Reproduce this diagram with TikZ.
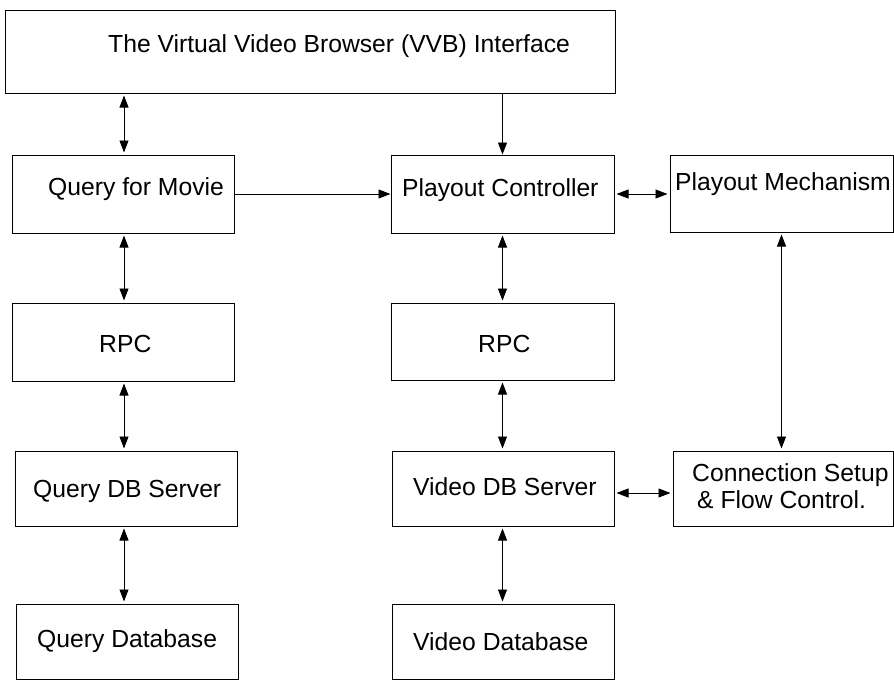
\documentclass[tikz,border=0pt]{standalone}
\usepackage{fontspec}
\setmainfont{Liberation Sans}
\usetikzlibrary{arrows.meta}
\begin{document}
\begin{tikzpicture}[x=1pt,y=-1pt,
  blk/.style={draw, line width=1pt, inner sep=0pt},
  lbl/.style={font=\fontsize{24.7}{29}\selectfont, inner sep=0pt, anchor=base west},
  conn/.style={line width=0.9pt, -{Triangle[length=12pt,width=9pt]}},
  bconn/.style={line width=0.9pt, {Triangle[length=12pt,width=9pt]}-{Triangle[length=12pt,width=9pt]}, shorten <=2pt, shorten >=2pt}]
\useasboundingbox (0,0) rectangle (894,680);
% boxes
\node[blk, minimum width=610pt, minimum height=83pt] (top) at (310,51.5) {};
\node[blk, minimum width=222pt, minimum height=78pt] (qfm) at (123,194) {};
\node[blk, minimum width=223pt, minimum height=78pt] (pc) at (502.5,194) {};
\node[blk, minimum width=223pt, minimum height=77pt] (pm) at (781.5,193.5) {};
\node[blk, minimum width=222pt, minimum height=78pt] (rpca) at (123,342) {};
\node[blk, minimum width=223pt, minimum height=77pt] (rpcb) at (502.5,341.5) {};
\node[blk, minimum width=222pt, minimum height=75pt] (qdbs) at (126,488.5) {};
\node[blk, minimum width=222pt, minimum height=75pt] (vdbs) at (503,488.5) {};
\node[blk, minimum width=220pt, minimum height=75pt] (cs) at (783,488.5) {};
\node[blk, minimum width=222pt, minimum height=75pt] (qdb) at (127,641.5) {};
\node[blk, minimum width=222pt, minimum height=75pt] (vdb) at (503,641.5) {};
% labels
\node[lbl] (ttop) at (108,52) {The Virtual Video Browser (VVB) Interface};
\node[lbl] (tqfm) at (48,195) {Query for Movie};
\node[lbl] (tpc) at (402,196) {Playout Controller};
\node[lbl] (tpm) at (675,190.5) {Playout Mechanism};
\node[lbl] (trpca) at (99,352) {RPC};
\node[lbl] (trpcb) at (478,352) {RPC};
\node[lbl] (tqdbs) at (33,497) {Query DB Server};
\node[lbl] (tvdbs) at (413,495) {Video DB Server};
\node[lbl] (tcsa) at (692,481) {Connection Setup};
\node[lbl] (tcsb) at (697,508) {\& Flow Control.};
\node[lbl] (tqdb) at (37,647) {Query Database};
\node[lbl] (tvdb) at (413,650) {Video Database};
% helper coordinates
\coordinate (lx) at (124,0);
\coordinate (vy) at (0,493);
% connectors
\draw[bconn] (top.south -| lx) -- (qfm.north -| lx);
\draw[conn] (top.south -| pc.north) -- (pc.north);
\draw[conn] (qfm.east) -- (pc.west);
\draw[bconn] (pc.east) -- (pm.west |- pc.east);
\draw[bconn] (qfm.south -| lx) -- (rpca.north -| lx);
\draw[bconn] (rpca.south -| lx) -- (qdbs.north -| lx);
\draw[bconn] (qdbs.south -| lx) -- (qdb.north -| lx);
\draw[bconn] (pc.south) -- (rpcb.north -| pc.south);
\draw[bconn] (rpcb.south) -- (vdbs.north -| rpcb.south);
\draw[bconn] (vdbs.south -| rpcb.south) -- (vdb.north -| rpcb.south);
\draw[bconn] (vdbs.east |- vy) -- (cs.west |- vy);
\draw[bconn] (pm.south) -- (cs.north -| pm.south);
\end{tikzpicture}
\end{document}
